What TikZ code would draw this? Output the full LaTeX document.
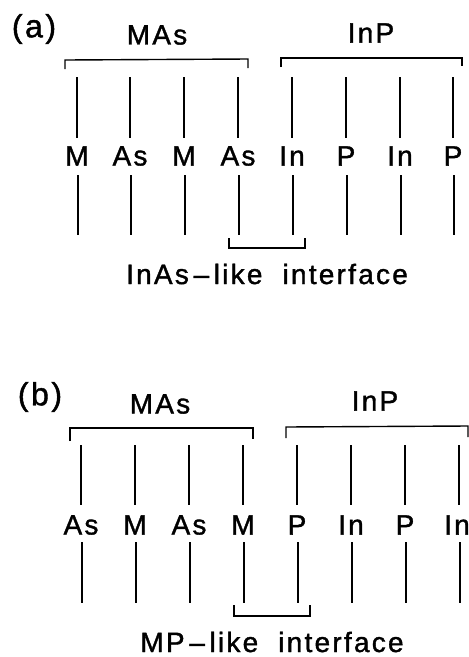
\documentclass[tikz,border=0pt]{standalone}
\usepackage{fontspec}
\setmainfont{Liberation Sans}[LetterSpace=8,FakeBold=1.3]
\begin{document}
\begin{tikzpicture}[x=1pt,y=-1pt,line width=1.4pt,
  lbl/.style={inner sep=0pt,font=\fontsize{28}{30}\selectfont},
  big/.style={inner sep=0pt,font=\fontsize{28}{30}\selectfont},
  par/.style={inner sep=0pt,font=\fontsize{32}{34}\selectfont}]
\useasboundingbox (0,0) rectangle (469,657);
% ---------- panel (a)
\node[par] (pa) at (34,29) {(a)};
\node[big] (masa) at (157,35) {MAs};
\node[big] (inpa) at (371,33) {InP};
\draw (65,69) -- (65,60) -- (248,59) -- (248,68);
\draw (281,67) -- (281,58) -- (462,58) -- (462,66);
\foreach \x/\t [count=\i] in {77/M,130/As,184/M,238/As,292/In,346/P,400/In,453/P}{
  \node[lbl] (a\i) at (\x,156) {\t};
  \draw (\x,77) -- (\x,138);
  \draw (\x+1,175) -- (\x+1,235);
}
\draw (229,238) -- (229,248) -- (305,248) -- (305,238);
\node[big] (ifa) at (267,274) {InAs\,--\,like\ \ interface};
% ---------- panel (b)
\node[par] (pb) at (40,397) {(b)};
\node[big] (masb) at (160,404) {MAs};
\node[big] (inpb) at (375,401) {InP};
\draw (70,441) -- (70,428) -- (253,428) -- (253,439);
\draw (286,438) -- (286,427) -- (468,426) -- (468,437);
\foreach \x/\t [count=\i] in {81/As,135/M,189/As,243/M,297/P,351/In,405/P,457/In}{
  \node[lbl] (b\i) at (\x,525) {\t};
}
\foreach \x in {81,135,189,243,297,351,405,459}{
  \draw (\x,445) -- (\x,505);
  \draw (\x+1,542) -- (\x+1,603);
}
\draw (234,605) -- (234,616) -- (310,616) -- (310,605);
\node[big] (ifb) at (272,642) {MP\,--\,like\ \ interface};
\end{tikzpicture}
\end{document}
